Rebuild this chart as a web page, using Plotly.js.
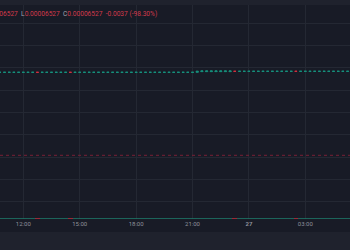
<!DOCTYPE html>
<html><head><meta charset="utf-8">
<script src="https://cdn.plot.ly/plotly-3.0.1.min.js"></script>
<style>html,body{margin:0;padding:0;background:#1f222d;overflow:hidden}#chart{width:350px;height:250px}</style>
</head><body><div id="chart"></div>
<script>
// 15-minute candle times
const day26 = ['10:45','11:00','11:15','11:30','11:45','12:00','12:15','12:30','12:45','13:00','13:15','13:30','13:45','14:00','14:15','14:30','14:45','15:00','15:15','15:30','15:45','16:00','16:15','16:30','16:45','17:00','17:15','17:30','17:45','18:00','18:15','18:30','18:45','19:00','19:15','19:30','19:45','20:00','20:15','20:30','20:45','21:00','21:15','21:30','21:45','22:00','22:15','22:30','22:45','23:00','23:15','23:30','23:45'];
const day27 = ['00:00','00:15','00:30','00:45','01:00','01:15','01:30','01:45','02:00','02:15','02:30','02:45','03:00','03:15','03:30','03:45','04:00','04:15','04:30','04:45','05:00','05:15'];
const times = day26.map(t => '2024-05-26 ' + t).concat(day27.map(t => '2024-05-27 ' + t));

const openP = [
0.003765,0.003765,0.003765,0.003765,0.003765,0.003765,0.003765,0.003765,0.003765,0.003765,
0.003765,0.003765,0.003765,0.003765,0.003765,0.003765,0.003765,0.003765,0.003765,0.003765,
0.003765,0.003765,0.003765,0.003765,0.003765,0.003765,0.003765,0.003765,0.003765,0.003765,
0.003765,0.003765,0.003765,0.003765,0.003765,0.003765,0.003765,0.003765,0.003765,0.003765,
0.003765,0.003765,0.003765,0.00389,0.00389,0.00389,0.00389,0.00389,0.00389,0.00389,
0.003953,0.003953,0.003953,0.003953,0.003953,0.003953,0.003953,0.003953,0.003953,0.003953,
0.003953,0.003953,0.003953,0.003953,0.003953,0.003953,0.003953,0.003953,0.003953,0.003953,
0.003953,0.003953,0.003953,0.003953,0.003953];
const closeP = [
0.003765,0.003765,0.003765,0.003765,0.003765,0.003765,0.003765,0.003765,0.00376,0.003765,
0.003765,0.003765,0.003765,0.003765,0.003765,0.00376,0.003765,0.003765,0.003765,0.003765,
0.003765,0.003765,0.003765,0.003765,0.003765,0.003765,0.003765,0.003765,0.003765,0.003765,
0.003765,0.003765,0.003765,0.003765,0.003765,0.003765,0.003765,0.003765,0.003765,0.003765,
0.003765,0.003765,0.003953,0.00402,0.00402,0.00402,0.00402,0.00402,0.00402,0.00402,
0.00395,0.003953,0.003953,0.003953,0.003953,0.003953,0.003953,0.003953,0.003953,0.003953,
0.003953,0.003953,0.003953,0.00395,0.003953,0.003953,0.003953,0.003953,0.003953,0.003953,
0.003953,0.003953,0.003953,0.003953,0.003953];
const highP = openP.map((o, i) => Math.max(o, closeP[i]));
const lowP = openP.map((o, i) => Math.min(o, closeP[i]));
const volume = [
1,1,1,1,1,1,1,1,1,1, 1,1,1,1,1,1,1,1,1,1, 1,1,1,1,1,1,1,1,1,1,
1,1,1,1,1,1,1,1,1,1, 1,1,1,1,1,1,1,1,1,1, 1,1,1,1,1,1,1,1,1,1,
1,1,1,1,1,1,1,1,1,1, 1,1,1,1,1];

const lastPrice = 0.00006527;
const prevLabel = 'H';
const changeAbs = '-0.0037';
const changePct = '-98.30%';

const tickVals = ['2024-05-26 12:00','2024-05-26 15:00','2024-05-26 18:00','2024-05-26 21:00','2024-05-27 00:00','2024-05-27 03:00'];
const tickText = ['12:00','15:00','18:00','21:00','<b>27</b>','03:00'];
const xRange = ['2024-05-26 10:45:34','2024-05-27 05:22:40'];

const UP = '#17917d', DOWN = '#d2303f';
const BG = '#181b26', GRID = '#242833', BAND = '#1f222d';

// direction like the candlestick trace (flat candles follow previous close)
const volColors = [];
let inc = true, prev = null;
for (let i = 0; i < closeP.length; i++) {
  if (closeP[i] === openP[i]) { if (prev !== null && closeP[i] !== prev) inc = closeP[i] > prev; }
  else inc = closeP[i] > openP[i];
  prev = closeP[i];
  volColors.push(inc ? 'rgba(30,120,105,0.8)' : 'rgba(190,45,60,0.8)');
}

const fmt = v => v.toFixed(8);
const g = s => '<span style="color:#a3a6af">' + s + '</span>';
const nb = '\u00a0';
const legendText = g(prevLabel) + fmt(lastPrice) + nb + ' ' + g('L') + fmt(lastPrice) + nb + ' ' + g('C') + fmt(lastPrice) + nb + ' ' + changeAbs + ' (' + changePct + ')';

const traces = [
  {
    type: 'bar', x: times, y: volume, yaxis: 'y2', marker: {color: volColors, line: {width: 0}},
    hoverinfo: 'skip'
  },
  {
    type: 'scatter', mode: 'lines', x: xRange, y: [lastPrice, lastPrice],
    line: {color: 'rgba(125,32,55,0.95)', width: 1, dash: 'dot'}, hoverinfo: 'skip'
  },
  {
    type: 'candlestick', x: times, open: openP, high: highP, low: lowP, close: closeP,
    increasing: {line: {color: UP, width: 1}},
    decreasing: {line: {color: DOWN, width: 1}},
    whiskerwidth: 0, hoverinfo: 'skip'
  }
];

const layout = {
  width: 350, height: 250,
  margin: {l: 0, r: 0, t: 5, b: 31, pad: 0},
  paper_bgcolor: BAND, plot_bgcolor: BG,
  showlegend: false, bargap: 0,
  font: {family: 'Roboto, sans-serif'},
  xaxis: {
    type: 'date', range: xRange, rangeslider: {visible: false},
    tickmode: 'array', tickvals: tickVals, ticktext: tickText,
    showgrid: true, gridcolor: GRID, gridwidth: 1, zeroline: false, showline: false,
    ticks: '', tickfont: {size: 6, color: '#8e919b', family: 'Roboto, sans-serif'}
  },
  yaxis: {
    type: 'log', range: [-5.53685, -0.99631], side: 'right',
    tick0: -1.38459, dtick: 0.47315,
    showgrid: true, gridcolor: GRID, gridwidth: 1, zeroline: false, showline: false,
    showticklabels: false, ticks: ''
  },
  yaxis2: {overlaying: 'y', range: [0, 160], visible: false, showgrid: false},
  shapes: [
    {type: 'rect', xref: 'paper', yref: 'paper', x0: 0, x1: 1, y0: -13 / 214, y1: 0,
     fillcolor: BG, line: {width: 0}, layer: 'below'}
  ],
  annotations: [
    {xref: 'paper', yref: 'paper', x: -22.2 / 350, y: 205 / 214, xanchor: 'left', yanchor: 'middle',
     showarrow: false, borderpad: 0, borderwidth: 0, text: legendText,
     font: {size: 6.6, color: '#d23a4b', family: 'Roboto, sans-serif'}}
  ]
};

Plotly.newPlot('chart', traces, layout, {staticPlot: true, displayModeBar: false});
</script>
</body></html>
